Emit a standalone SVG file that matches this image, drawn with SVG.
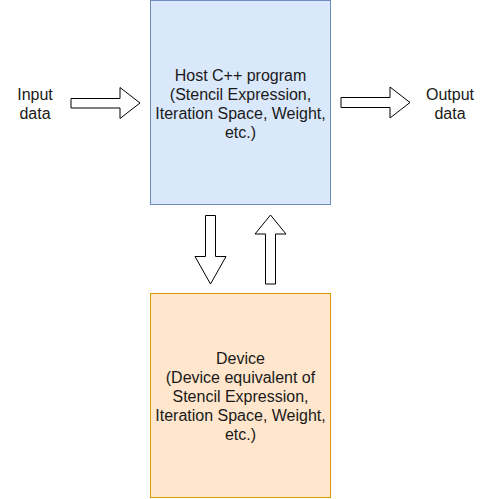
<svg xmlns="http://www.w3.org/2000/svg" width="486" height="499" viewBox="0 0 486 499">
<style>
text{font-family:"Liberation Sans",Arial,sans-serif;font-size:16px;fill:#1a1a1a;text-anchor:middle}
.arr{fill:#fff;stroke:#000;stroke-width:1}
</style>
<rect width="486" height="499" fill="#fff"/>
<g id="host">
<rect x="150.5" y="0.5" width="180" height="204" fill="#dae8fc" stroke="#6c8ebf"/>
<text x="240.5" y="81">Host C++ program</text>
<text x="240.5" y="100">(Stencil Expression,</text>
<text x="240.5" y="119">Iteration Space, Weight,</text>
<text x="240.5" y="138">etc.)</text>
</g>
<g id="device">
<rect x="150.5" y="293.5" width="180" height="204" fill="#ffe6cc" stroke="#d79b00"/>
<text x="240.5" y="364">Device</text>
<text x="240.5" y="383">(Device equivalent of</text>
<text x="240.5" y="402">Stencil Expression,</text>
<text x="240.5" y="421">Iteration Space, Weight,</text>
<text x="240.5" y="440">etc.)</text>
</g>
<g id="input">
<text x="35" y="100">Input</text>
<text x="35" y="119">data</text>
</g>
<g id="output">
<text x="450" y="100">Output</text>
<text x="450" y="119">data</text>
</g>
<g id="connectors">
<path class="arr" d="M71,98.5 H120 V87.5 L140,103 L120,118.5 V108 H71 Z"/>
<path class="arr" d="M341,97.5 H390 V87 L410,102.5 L390,118 V107.5 H341 Z"/>
<path class="arr" d="M205.5,215.5 H215.5 V256.5 H226 L210.5,284 L195,256.5 H205.5 Z"/>
<path class="arr" d="M265.5,284 H275.5 V234 H286 L270.5,215 L255,234 H265.5 Z"/>
</g>
</svg>
